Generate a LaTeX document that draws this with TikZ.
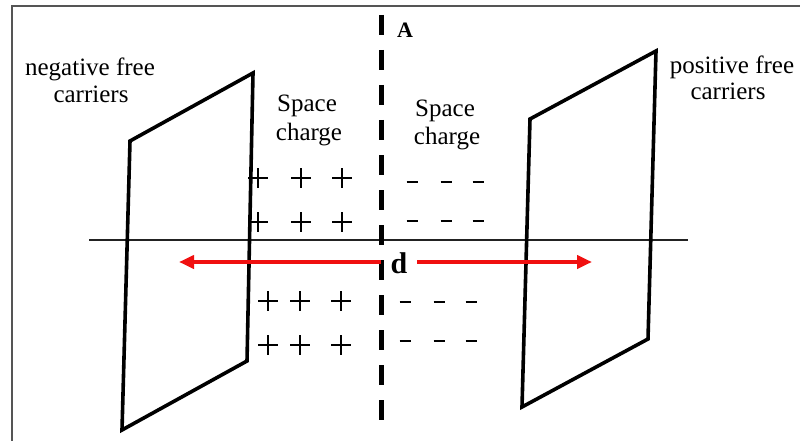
\documentclass[tikz,border=0pt]{standalone}
\usepackage{fontspec}
\setmainfont{Liberation Serif}
\usetikzlibrary{arrows.meta}
\definecolor{framegray}{HTML}{555555}
\definecolor{axisgray}{HTML}{222222}
\definecolor{arrowred}{HTML}{F01010}
\tikzset{
  lbl/.style={anchor=base, inner sep=0pt, font=\fontsize{25}{27}\selectfont},
  plate/.style={line width=3.6pt, line join=miter},
  plusmark/.style={line width=2pt},
  minusmark/.style={line width=2.6pt},
  redarrow/.style={draw=arrowred, line width=4pt, -{Triangle[length=15pt,width=13pt]}},
}
\newcommand{\plussign}[2]{\draw[plusmark] (#1-10,#2) -- (#1+10,#2) (#1,#2-10) -- (#1,#2+10);}
\newcommand{\minussign}[2]{\draw[minusmark] (#1-5.5,#2) -- (#1+5.5,#2);}
\begin{document}
\begin{tikzpicture}[x=1pt,y=-1pt]
\useasboundingbox (0,0) rectangle (800,441);
\fill[white] (0,0) rectangle (800,441);
% frame
\draw[framegray, line width=1.5pt] (12,445) -- (12,6) -- (805,6);
% horizontal axis
\coordinate (hL) at (89,240);
\coordinate (hR) at (688,240);
\draw[axisgray, line width=1.3pt] (hL) -- (hR);
% left plate
\coordinate (l1) at (130,141);
\coordinate (l2) at (253,73);
\coordinate (l3) at (247,361);
\coordinate (l4) at (122,430);
\draw[plate] (l1) -- (l2) -- (l3) -- (l4) -- cycle;
% right plate
\coordinate (r1) at (530,119);
\coordinate (r2) at (656,51);
\coordinate (r3) at (648,339);
\coordinate (r4) at (522,407);
\draw[plate] (r1) -- (r2) -- (r3) -- (r4) -- cycle;
% dashed vertical line A
\coordinate (aT) at (381.5,15);
\coordinate (aB) at (381.5,420);
\draw[line width=4.6pt, dash pattern=on 20pt off 15pt] (aT) -- (aB);
% plus signs
\foreach \x in {258,301,342} { \plussign{\x}{178} \plussign{\x}{222} }
\foreach \x in {268,300,341} { \plussign{\x}{301} \plussign{\x}{345} }
% minus signs
\foreach \x in {412,446,478} { \minussign{\x}{182} \minussign{\x}{221} }
\foreach \x in {405,439,471} { \minussign{\x}{302} \minussign{\x}{341} }
% red arrows
\coordinate (dL) at (381,262);
\coordinate (tipL) at (179,262);
\coordinate (dR) at (417,262);
\coordinate (tipR) at (592,262);
\draw[redarrow] (dL) -- (tipL);
\draw[redarrow] (dR) -- (tipR);
% labels
\node[lbl] (neg1) at (90,76) {negative free};
\node[lbl] (neg2) at (91,103) {carriers};
\node[lbl] (sl1) at (307,112) {Space};
\node[lbl] (sl2) at (309,140) {charge};
\node[lbl] (sr1) at (445,117) {Space};
\node[lbl] (sr2) at (447,145) {charge};
\node[lbl] (pos1) at (732,74) {positive free};
\node[lbl] (pos2) at (728,100) {carriers};
\node[anchor=base, inner sep=0pt, font=\fontsize{22}{24}\selectfont\bfseries] (A) at (405,38) {A};
\node[anchor=base, inner sep=0pt, font=\fontsize{30}{32}\selectfont\bfseries] (d) at (399,273) {d};
\end{tikzpicture}
\end{document}
